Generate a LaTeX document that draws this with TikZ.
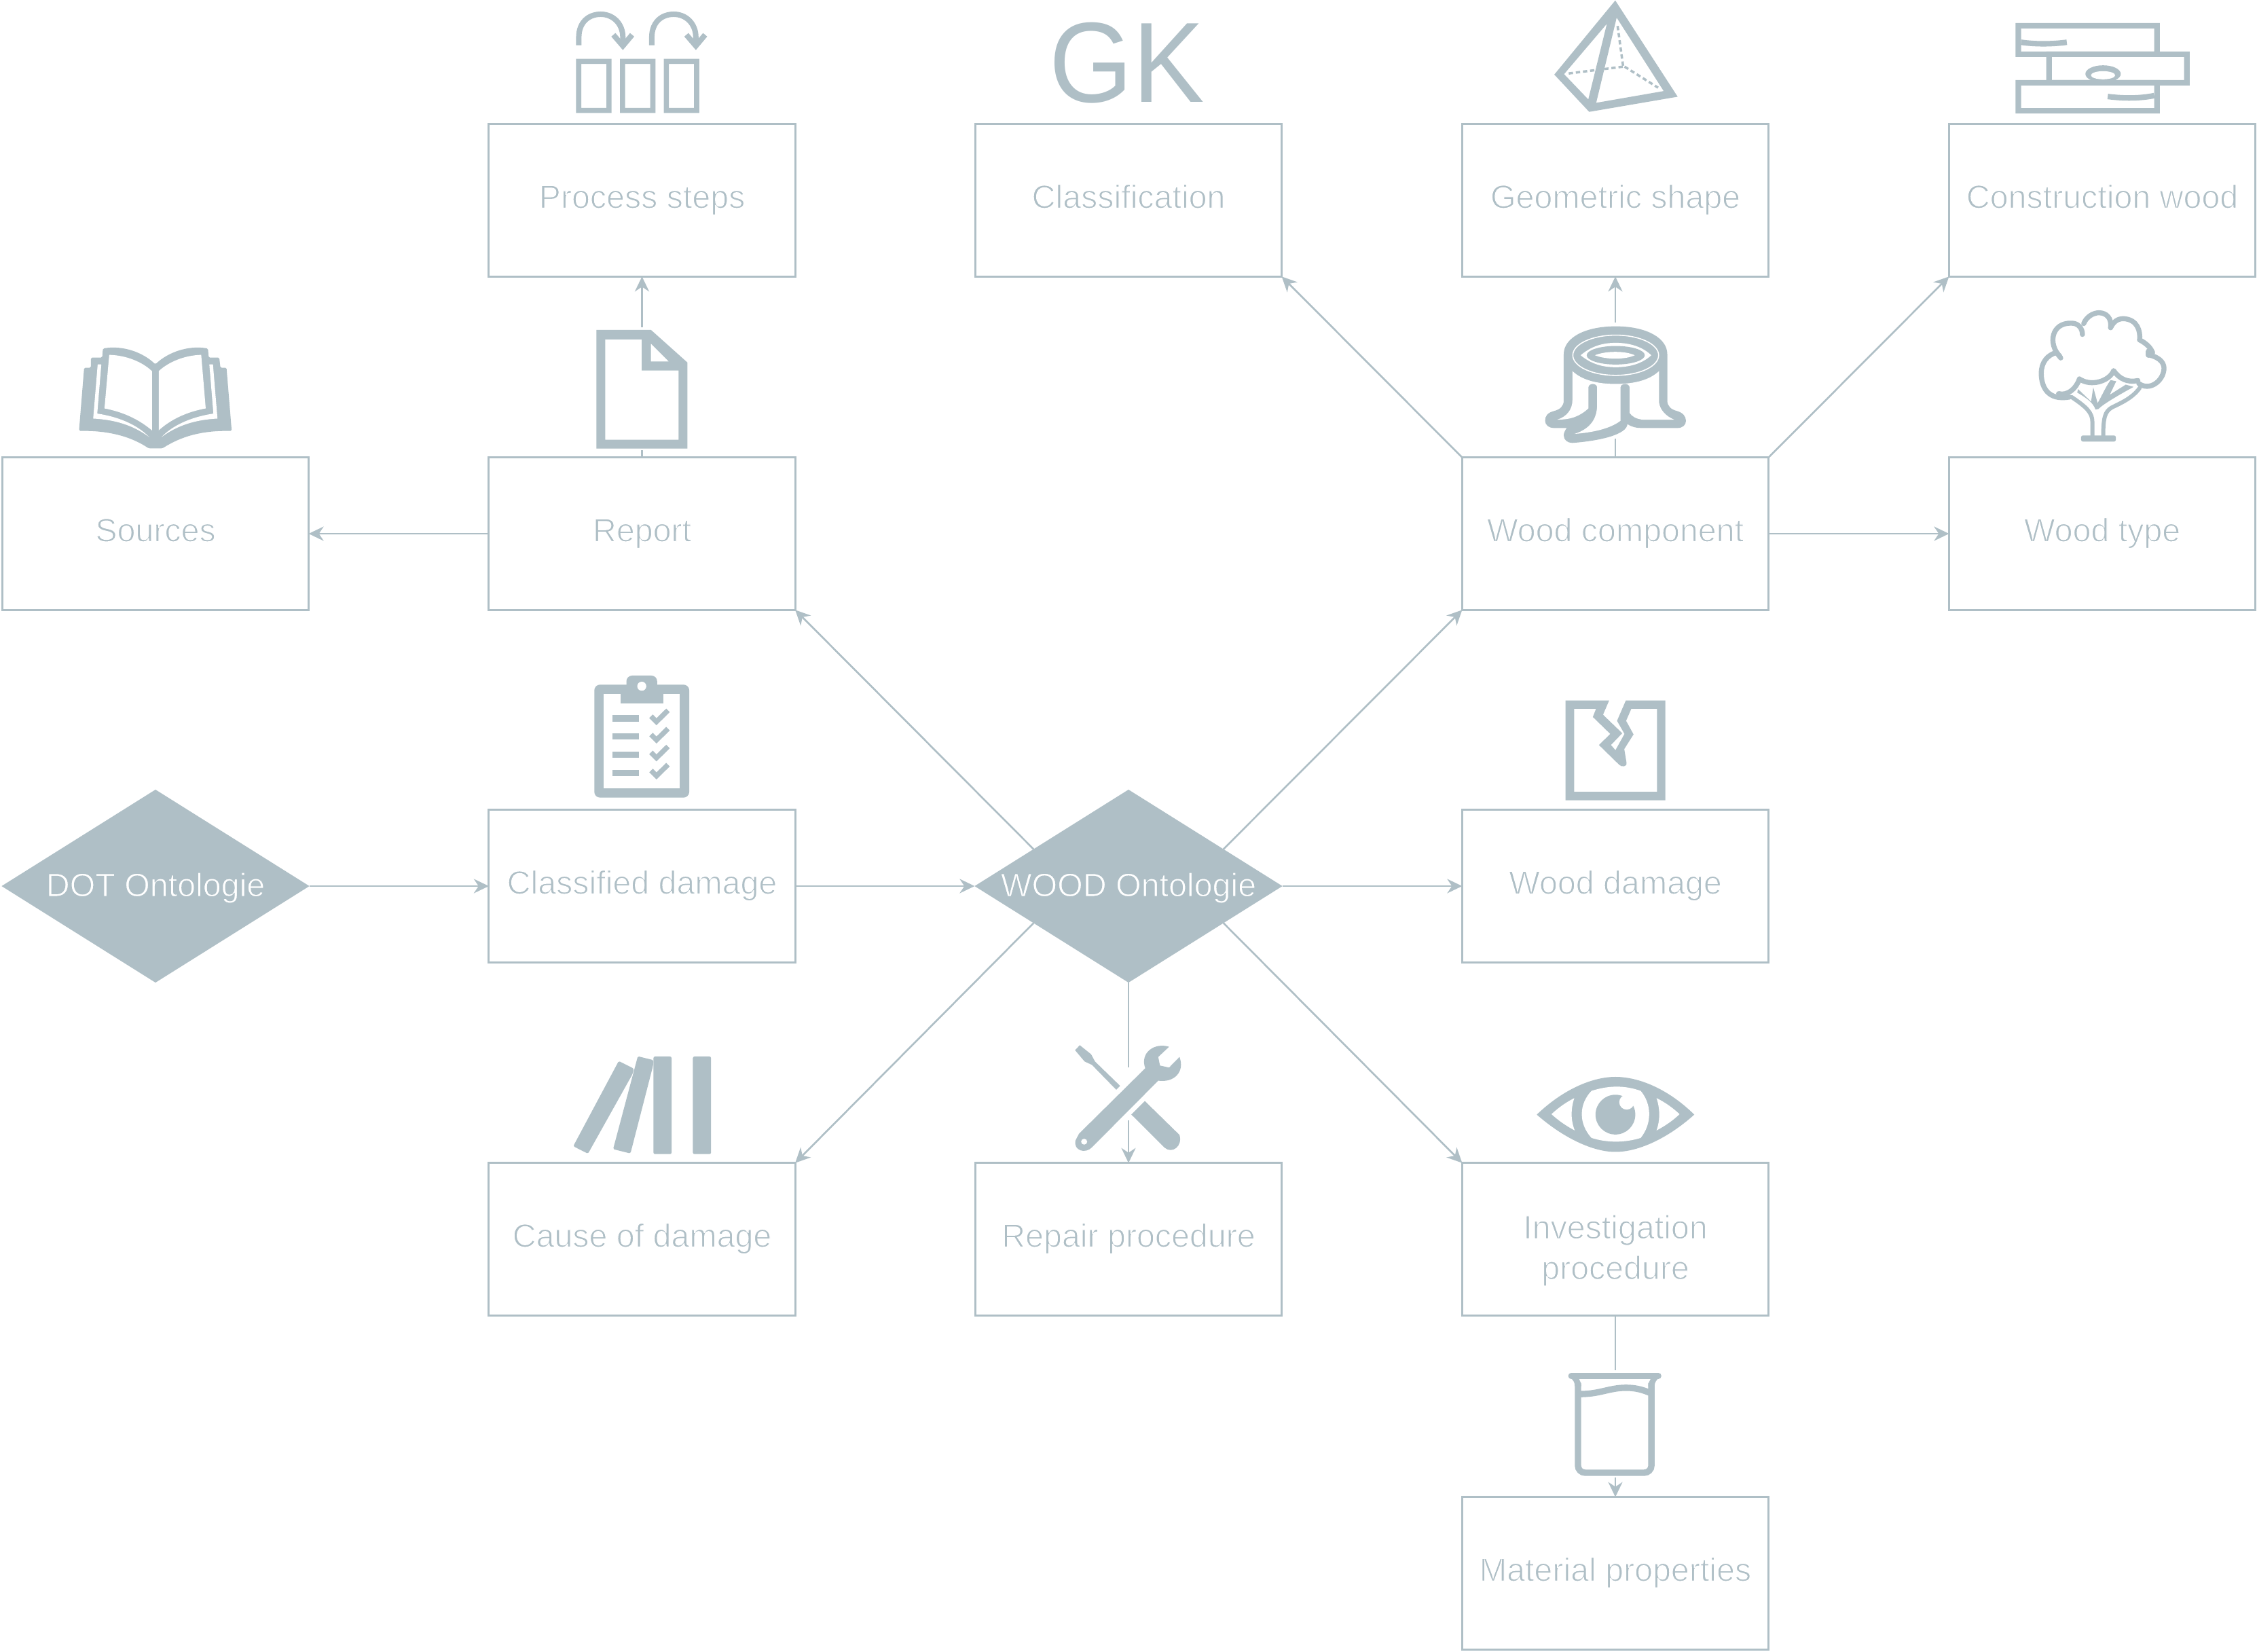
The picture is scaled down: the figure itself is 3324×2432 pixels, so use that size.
\documentclass[tikz,border=0pt]{standalone}
\usepackage{fontspec}
\setmainfont{Liberation Sans}
\usetikzlibrary{shapes.geometric,arrows.meta,calc}
\definecolor{ink}{HTML}{AFBFC6}
% thin the regular face to the light weight of the reference by a hairline stroke
\newcommand{\thinA}[1]{\special{pdf:code 2 Tr 0.35 w 1 1 1 RG}#1\special{pdf:code 0 Tr}}
\newcommand{\thinB}[1]{\special{pdf:code 2 Tr 0.3 w 0.686 0.749 0.776 RG}#1\special{pdf:code 0 Tr}}
\tikzset{
  zoomed/.style 2 args={shift={(#1,#2)},x=0.0033333cm,y=-0.0033333cm},
  zoomtwo/.style 2 args={shift={(#1,#2)},x=0.0068495cm,y=-0.0033333cm},
  zoomthree/.style 2 args={shift={(#1,#2)},x=0.0063776cm,y=-0.0033333cm},
  box/.style={rectangle,draw=ink,line width=.85pt,minimum width=4.51cm,minimum height=2.245cm,
    inner sep=0pt,outer sep=0pt,text=ink,font=\fontsize{13.75}{17}\selectfont,
    text height=.35cm,text depth=.12cm},
  dia/.style={shape=diamond,fill=ink,aspect=1.595,minimum width=4.53cm,minimum height=2.84cm,
    inner sep=0pt,outer sep=0pt,text=white,font=\fontsize{13.75}{17}\selectfont,
    text height=.40cm,text depth=.10cm},
  conn/.style={draw=ink,line width=.75pt,-{Stealth[length=2.2mm,width=2.1mm,inset=.7mm]}},
}
\begin{document}
\begin{tikzpicture}[x=0.01cm,y=-0.01cm]
\useasboundingbox[fill=white] (0,0) rectangle (3324,2432);

% ---------- nodes ----------
\node[box] (process) at (945.5,295) {\thinA{Process steps}};
\node[box] (classif) at (1662,295) {\thinA{Classification}};
\node[box] (geom)    at (2379,295) {\thinA{Geometric shape}};
\node[box] (constr)  at (3096,295) {\thinA{Construction wood}};
\node[box] (sources) at (229,786)  {\thinA{Sources}};
\node[box] (report)  at (945.5,786){\thinA{Report}};
\node[box] (comp)    at (2379,786) {\thinA{Wood component}};
\node[box] (type)    at (3096,786) {\thinA{Wood type}};
\node[box] (classd)  at (945.5,1305){\thinA{Classified damage}};
\node[box] (wdamage) at (2379,1305){\thinA{Wood damage}};
\node[dia] (dot)     at (229,1305) {\makebox[0pt]{\thinB{DOT Ontologie}}};
\node[dia] (wood)    at (1662,1305){\makebox[0pt]{\thinB{WOOD Ontologie}}};
\node[box] (cause)   at (945.5,1825){\thinA{Cause of damage}};
\node[box] (repair)  at (1662,1825){\thinA{Repair procedure}};
\node[box,align=center,text height=,text depth=] (invest) at (2379,1825){\rule{0pt}{.68cm}\thinA{Investigation}\\\thinA{procedure}};
\node[box] (mater)   at (2379,2317){\thinA{Material properties}};
\node[text=ink,font=\fontsize{47.8}{50}\selectfont,anchor=base,inner sep=0pt] (gk) at (1660,150.7) {\scalebox{0.94}[1]{GK}};

% ---------- connectors ----------
\draw[conn] (report) -- (process);
\draw[conn] (report) -- (sources);
\draw[conn] ($(wood.west)!0.383!(wood.north)$) -- (report.south east);
\draw[conn] ($(wood.east)!0.383!(wood.north)$) -- (comp.south west);
\draw[conn] ($(wood.west)!0.383!(wood.south)$) -- (cause.north east);
\draw[conn] ($(wood.east)!0.383!(wood.south)$) -- (invest.north west);
\draw[conn] (comp.north west) -- (classif.south east);
\draw[conn] (comp) -- (geom);
\draw[conn] (comp.north east) -- (constr.south west);
\draw[conn] (comp) -- (type);
\draw[conn] (dot) -- (classd);
\draw[conn] (classd) -- (wood);
\draw[conn] (wood) -- (wdamage);
\draw[conn] (wood) -- (repair);
\draw[conn] (invest) -- (mater);

% ---------- icon: process steps ----------
\begin{scope}[zoomed={700}{0}]
  \foreach \a in {446,640,834}{
    \fill[ink,even odd rule] (\a,260) rectangle +(157,240) ($(\a,260)+(23,23)$) rectangle +(111,194);
  }
  \foreach \s in {0,323}{
    \draw[ink,line width=2.27pt] (458+\s,200) -- (458+\s,165) .. controls (458+\s,100) and (500+\s,63) .. (555+\s,63) .. controls (610+\s,63) and (653+\s,105) .. (653+\s,165) -- (653+\s,205);
    \draw[ink,line width=2.27pt,miter limit=10] (611+\s,154) -- (653+\s,203) -- (694+\s,154);
  }
\end{scope}

% ---------- icon: pyramid ----------
\begin{scope}[zoomtwo={2250}{0}]
  \draw[ink,line width=1pt,dash pattern=on 1.8pt off 1.2pt] (193,115) -- (205,295);
  \draw[ink,line width=1pt,dash pattern=on 1.8pt off 1.2pt] (88,325) -- (205,295);
  \draw[ink,line width=1pt,dash pattern=on 1.8pt off 1.2pt] (208,295) -- (280,388);
  \fill[ink,even odd rule] (188,2) -- (322,428) -- (132,495) -- (57,330) -- cycle
     (170,105) -- (78,328) -- (130,440) -- cycle
     (191,78) -- (292,403) -- (147,455) -- cycle;
\end{scope}

% ---------- icon: construction wood ----------
\begin{scope}[zoomtwo={2250}{0}]
  \fill[ink,even odd rule] (1048,102) rectangle (1358,252) (1060,126) rectangle (1346,228);
  \fill[ink,even odd rule] (1114,228) rectangle (1422,378) (1126,252) rectangle (1410,354);
  \fill[ink,even odd rule] (1048,354) rectangle (1358,502) (1060,378) rectangle (1346,478);
  \draw[ink,line width=2.3pt] (1060,187) .. controls (1090,196) and (1125,196) .. (1158,187);
  \draw[ink,line width=2.3pt] (1246,427) .. controls (1280,436) and (1315,436) .. (1346,423);
  \fill[ink] (1236,327) circle[radius=38];
  \fill[white] (1236,333) ellipse[x radius=26,y radius=18];
\end{scope}

% ---------- icon: stump ----------
\fill[white] (2366,475) rectangle (2392,646);
\begin{scope}[zoomthree={2250}{430}]
  \fill[ink] (203,152) .. controls (130,152) and (83,205) .. (83,275) -- (83,480)
     .. controls (83,505) and (75,520) .. (60,527) .. controls (45,535) and (40,550) .. (40,570)
     .. controls (40,590) and (50,602) .. (60,602) -- (90,602)
     .. controls (85,615) and (83,625) .. (83,635) .. controls (83,655) and (92,668) .. (103,668)
     .. controls (170,658) and (228,630) .. (230,585)
     .. controls (240,597) and (250,602) .. (262,602) -- (345,602)
     .. controls (358,602) and (365,588) .. (365,570) .. controls (365,550) and (358,535) .. (345,527)
     .. controls (330,520) and (322,505) .. (322,480) -- (322,275)
     .. controls (322,205) and (275,152) .. (203,152) -- cycle;
  \fill[white] (103,350) .. controls (125,390) and (160,407) .. (203,407)
     .. controls (246,407) and (281,390) .. (303,350) -- (303,490)
     .. controls (305,520) and (318,550) .. (338,565) -- (265,565)
     .. controls (250,562) and (240,550) .. (235,535) -- (235,422)
     .. controls (235,402) and (214,402) .. (214,422) -- (214,570)
     .. controls (190,605) and (150,622) .. (108,628)
     .. controls (145,605) and (160,560) .. (160,500) -- (160,422)
     .. controls (160,402) and (140,402) .. (140,422) -- (140,515)
     .. controls (120,550) and (100,565) .. (68,565)
     .. controls (90,552) and (103,520) .. (103,480) -- cycle;
  \draw[white,line width=.45pt] (203,280) ellipse[x radius=99,y radius=89];
  \fill[white] (122,280) .. controls (145,243) and (170,225) .. (203,225) .. controls (236,225) and (265,243) .. (285,280)
     .. controls (265,316) and (236,333) .. (203,333) .. controls (170,333) and (145,316) .. (122,280) -- cycle;
  \fill[ink] (203,280) ellipse[x radius=67,y radius=41];
  \fill[white] (155,280) .. controls (180,260) and (225,260) .. (247,280) .. controls (225,300) and (180,300) .. (155,280) -- cycle;
\end{scope}

% ---------- icon: tree ----------
\begin{scope}[zoomthree={2250}{430}]
  \begin{scope}[ink,line width=2.1pt,line cap=round,line join=round]
  \draw (1250,465) .. controls (1200,482) and (1185,420) .. (1185,360) .. controls (1185,310) and (1200,278) .. (1220,268) (1220,268) -- (1230,292);
  \draw (1228,285) .. controls (1200,230) and (1208,135) .. (1255,138) .. controls (1270,138) and (1280,160) .. (1280,188);
  \draw (1283,140) .. controls (1290,105) and (1308,92) .. (1318,92) .. controls (1335,92) and (1348,115) .. (1345,158);
  \draw (1345,158) .. controls (1352,130) and (1362,118) .. (1375,118) .. controls (1408,122) and (1414,175) .. (1412,212);
  \draw (1412,212) .. controls (1430,230) and (1438,250) .. (1442,268) (1432,262) -- (1432,280);
  \draw (1432,278) .. controls (1462,290) and (1470,320) .. (1468,345) .. controls (1465,395) and (1435,440) .. (1410,405);
  \draw (1408,392) .. controls (1385,402) and (1365,385) .. (1352,348) .. controls (1342,395) and (1300,420) .. (1273,385);
  \draw (1273,385) .. controls (1265,430) and (1245,460) .. (1225,450);
  \draw[line width=1.7pt] (1255,465) .. controls (1290,510) and (1303,535) .. (1303,575) -- (1303,640);
  \draw[line width=1.7pt] (1412,425) .. controls (1395,470) and (1370,490) .. (1347,512) .. controls (1332,530) and (1328,555) .. (1328,640);
  \end{scope}
  \fill[ink] (1268,445) .. controls (1290,470) and (1305,490) .. (1310,520) -- (1317,518)
     .. controls (1325,500) and (1360,460) .. (1398,420) -- (1380,410) -- (1343,455) -- (1358,395) -- (1345,390) .. controls (1332,425) and (1325,460) .. (1315,492) -- (1305,422) -- (1300,485) -- (1270,430) -- cycle;
  \fill[white] (1278,418) -- (1288,415) -- (1293,450) -- cycle;
  \fill[ink,rounded corners=.7pt] (1277,635) rectangle (1357,662);
\end{scope}

% ---------- icon: book ----------
\begin{scope}[zoomed={80}{480}]
  \fill[ink,even odd rule,rounded corners=.5pt] (110,455) -- (132,185) -- (162,185) -- (162,140) -- (212,140) -- (215,100)
     .. controls (300,85) and (390,115) .. (447,170) .. controls (505,115) and (595,85) .. (680,100)
     -- (683,140) -- (730,140) -- (735,185) -- (762,185) -- (785,465)
     .. controls (650,462) and (560,490) .. (478,542) -- (418,542)
     .. controls (340,490) and (240,462) .. (110,465) -- cycle;
  \fill[white] (243,128) .. controls (320,130) and (390,160) .. (432,200) -- (432,462) .. controls (370,410) and (300,380) .. (222,365) -- cycle;
  \fill[white] (650,128) .. controls (575,130) and (505,160) .. (462,200) -- (462,462) .. controls (520,410) and (590,380) .. (670,365) -- cycle;
  \fill[white] (192,170) -- (208,170) -- (190,388) .. controls (270,400) and (360,430) .. (420,492) .. controls (350,440) and (270,415) .. (172,410) -- cycle;
  \fill[white] (702,170) -- (686,170) -- (704,388) .. controls (624,400) and (534,430) .. (474,492) .. controls (544,440) and (624,415) .. (722,410) -- cycle;
\end{scope}

% ---------- icon: report document ----------
\begin{scope}[zoomed={860}{470}]
  \fill[white] (245,35) rectangle (267,580);
  \fill[ink,even odd rule] (55,48) -- (297,48) -- (458,192) -- (458,573) -- (55,573) -- cycle
     (94,90) -- (256,90) -- (256,227) -- (419,227) -- (419,534) -- (94,534) -- cycle
     (296,108) -- (375,187) -- (296,187) -- cycle;
\end{scope}

% ---------- icon: clipboard ----------
\begin{scope}[zoomed={840}{970}]
  \fill[ink,rounded corners=2.4pt] (106,115) rectangle (526,615);
  \fill[white] (148,156) rectangle (485,574);
  \fill[ink,rounded corners=2.4pt] (248,150) -- (248,75) -- (384,75) -- (384,150) -- cycle;
  \fill[ink] (221,140) rectangle (411,197);
  \fill[white] (316,122) circle[radius=20];
  \foreach \d/\c in {0/0,81/81,162/160,243/240}{
    \fill[ink] (187,250+\d) rectangle (303,278+\d);
    \draw[ink,line width=2.1pt] (357,255+\c) -- (381,279+\c) -- (432,229+\c);
  }
\end{scope}

% ---------- icon: wood damage ----------
\begin{scope}[zoomed={2260}{1000}]
  \fill[ink,even odd rule] (137,95) -- (330,95) -- (303,158) -- (388,240) -- (338,292) -- (358,315) -- (398,243) -- (365,185) -- (404,95) -- (579,95) -- (579,537) -- (137,537) -- cycle
    (175,132) -- (272,132) -- (258,168) -- (335,243) -- (285,292) -- (375,380) .. controls (385,390) and (410,390) .. (407,370) -- (397,310) -- (438,245) -- (405,185) -- (428,132) -- (542,132) -- (542,499) -- (175,499) -- cycle;
\end{scope}

% ---------- icon: books ----------
\begin{scope}[zoomthree={820}{1520}]
  \fill[ink,rounded corners=.7pt] (314,108) rectangle (356,540);
  \fill[ink,rounded corners=.7pt] (223,108) rectangle (265,540);
  \fill[ink,rounded corners=.5pt] (187,107) -- (223,124) -- (222,150) -- (170,537) -- (130,518) -- cycle;
  \fill[ink,rounded corners=.5pt] (143,128) -- (178,162) -- (175,185) -- (72,538) -- (38,505) -- cycle;
\end{scope}

% ---------- icon: wrench ----------
\begin{scope}[zoomthree={820}{1520}]
  \fill[white] (1313,155) rectangle (1327,390);
  \fill[ink] (1197,480) .. controls (1192,525) and (1220,540) .. (1235,510) -- (1388,215)
     .. controls (1425,225) and (1450,175) .. (1437,110) -- (1413,157) -- (1392,148) -- (1388,110) -- (1413,65)
     .. controls (1380,45) and (1345,90) .. (1358,160) -- (1205,450) -- cycle;
  \fill[white] (1217,485) ellipse[x radius=7,y radius=13];
  \fill[ink] (1207,58) -- (1233,98) -- (1242,130) -- (1300,238) -- (1291,255) -- (1235,145) -- (1218,130) -- (1196,80) -- cycle;
  \fill[ink] (1357,305) -- (1437,455) .. controls (1445,505) and (1420,540) .. (1403,512) -- (1326,365) -- cycle;
\end{scope}

% ---------- icon: eye ----------
\begin{scope}[zoomed={2220}{1560}]
  \fill[ink] (130,245) .. controls (250,130) and (380,78) .. (478,78) .. controls (580,78) and (710,130) .. (827,245) .. controls (710,350) and (580,410) .. (478,410) .. controls (380,410) and (250,350) .. (130,245) -- cycle;
  \fill[white] (195,243) .. controls (225,215) and (260,190) .. (296,172) .. controls (280,220) and (280,270) .. (298,315) .. controls (255,292) and (225,270) .. (195,243) -- cycle;
  \fill[white] (762,243) .. controls (732,215) and (697,190) .. (660,172) .. controls (676,220) and (676,270) .. (660,315) .. controls (703,292) and (733,270) .. (762,243) -- cycle;
  \fill[white] (372,140) .. controls (450,115) and (520,115) .. (590,140) .. controls (640,200) and (640,285) .. (590,348) .. controls (520,370) and (440,370) .. (372,348) .. controls (315,285) and (315,200) .. (372,140) -- cycle;
  \fill[ink] (478,245) circle[radius=88];
  \fill[white] (528,190) circle[radius=33];
\end{scope}

% ---------- icon: beaker ----------
\begin{scope}[zoomed={2280}{1930}]
  \fill[white] (285,265) rectangle (311,740);
  \draw[ink,line width=2.5pt,line cap=round] (102,289) -- (488,289);
  \draw[ink,line width=2.65pt,rounded corners=3pt] (132,320) -- (132,718) -- (457,718) -- (457,320);
  \fill[ink] (100,298) .. controls (112,310) and (118,318) .. (118,335) -- (147,335) .. controls (146,320) and (140,310) .. (135,300) -- cycle;
  \fill[ink] (490,298) .. controls (478,310) and (471,318) .. (471,335) -- (443,335) .. controls (444,320) and (450,310) .. (455,300) -- cycle;
  \draw[ink,line width=2.65pt] (140,370) .. controls (230,370) and (270,342) .. (345,342) .. controls (390,342) and (420,352) .. (450,364);
\end{scope}
\end{tikzpicture}
\end{document}
